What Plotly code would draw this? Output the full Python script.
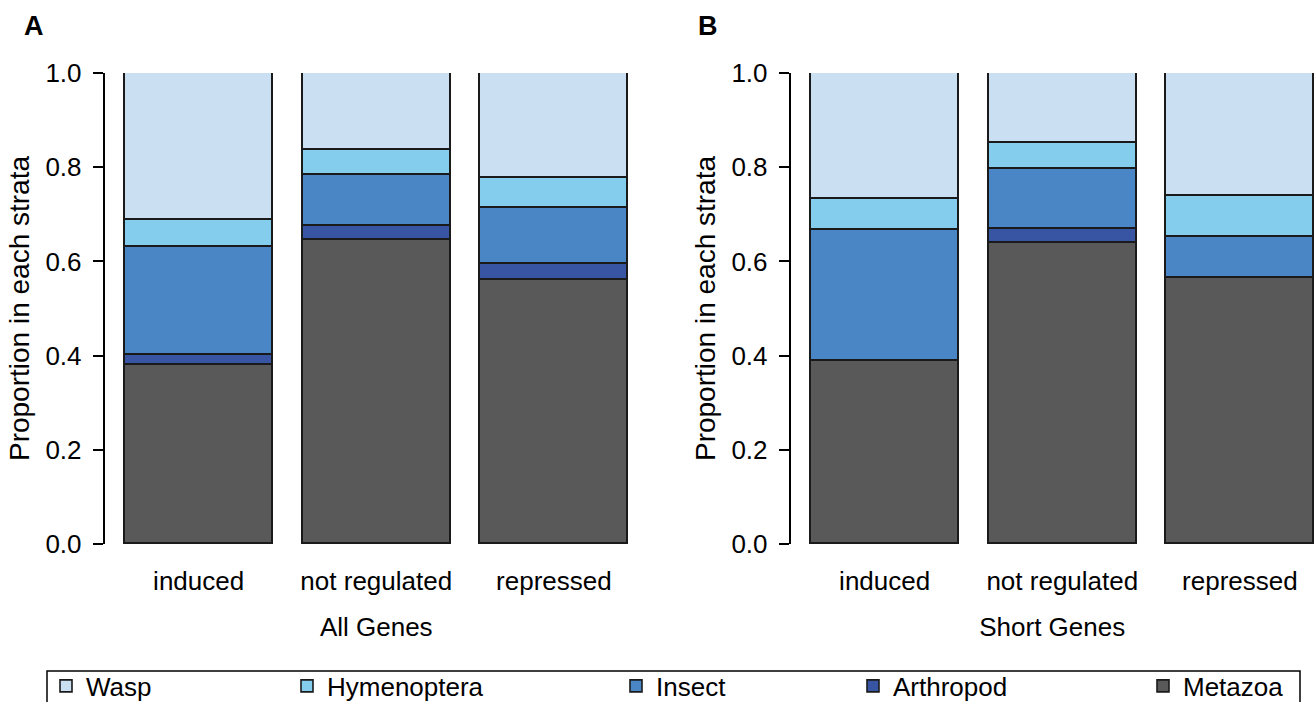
import plotly.graph_objects as go

W, H = 1314, 702

categories = ["induced", "not regulated", "repressed"]
taxa = ["Metazoa", "Arthropod", "Insect", "Hymenoptera", "Wasp"]
colors = {
    "Wasp": "#CBDFF3",
    "Hymenoptera": "#84CDEC",
    "Insect": "#4A86C5",
    "Arthropod": "#3755A3",
    "Metazoa": "#595959",
}

# Panel A: All Genes (segment proportions)
metazoa_all = [0.379, 0.645, 0.560]
arthropod_all = [0.022, 0.031, 0.034]
insect_all = [0.230, 0.108, 0.119]
hymenoptera_all = [0.057, 0.053, 0.065]
wasp_all = [0.312, 0.163, 0.222]

# Panel B: Short Genes
metazoa_short = [0.389, 0.639, 0.565]
arthropod_short = [0.000, 0.029, 0.000]
insect_short = [0.278, 0.128, 0.087]
hymenoptera_short = [0.066, 0.056, 0.087]
wasp_short = [0.267, 0.148, 0.261]

panel_A = dict(zip(taxa, [metazoa_all, arthropod_all, insect_all, hymenoptera_all, wasp_all]))
panel_B = dict(zip(taxa, [metazoa_short, arthropod_short, insect_short, hymenoptera_short, wasp_short]))

legend_ids = {"Wasp": "legend", "Hymenoptera": "legend2", "Insect": "legend3",
              "Arthropod": "legend4", "Metazoa": "legend5"}
legend_x_px = {"Wasp": 46, "Hymenoptera": 287, "Insect": 616, "Arthropod": 853, "Metazoa": 1143}

FONT = "Arial, Liberation Sans, sans-serif"
FS = 26
fig = go.Figure()

for t in taxa:
    fig.add_trace(go.Bar(
        x=categories, y=panel_A[t], name=t, xaxis="x", yaxis="y",
        marker=dict(color=colors[t], line=dict(color="#1a1a1a", width=1.6)),
        width=1 / 1.2, legend=legend_ids[t], showlegend=True,
    ))
for t in taxa:
    fig.add_trace(go.Bar(
        x=categories, y=panel_B[t], name=t, xaxis="x2", yaxis="y2",
        marker=dict(color=colors[t], line=dict(color="#1a1a1a", width=1.6)),
        width=1 / 1.2, showlegend=False,
    ))

ydom = [(H - 544) / H, (H - 73) / H]
yax = dict(range=[0, 1], domain=ydom, showline=True, linecolor="black", linewidth=1.5,
           ticks="outside", ticklen=10, tickwidth=1.5, tickcolor="black",
           tickvals=[0, 0.2, 0.4, 0.6, 0.8, 1.0], tickformat=".1f",
           showgrid=False, zeroline=False, ticklabelstandoff=6,
           tickfont=dict(size=FS, color="black", family=FONT),
           title=dict(text="Proportion in each strata", standoff=8,
                      font=dict(size=28, color="black", family=FONT)))
xax = dict(showline=False, ticks="", showgrid=False, zeroline=False,
           tickfont=dict(size=FS, color="black", family=FONT), ticklabelstandoff=19,
           title=dict(standoff=22, font=dict(size=FS, color="black", family=FONT)))

legends = {}
for t in taxa:
    legends[legend_ids[t]] = dict(
        x=legend_x_px[t] / W, xanchor="left", y=(H - 686) / H, yanchor="middle",
        orientation="h", bgcolor="rgba(0,0,0,0)", borderwidth=0,
        font=dict(size=FS, color="black", family=FONT),
    )

fig.update_layout(
    width=W, height=H, margin=dict(l=0, r=0, t=0, b=0, autoexpand=False),
    paper_bgcolor="white", plot_bgcolor="white",
    barmode="stack", bargap=0,
    font=dict(family=FONT, color="black"),
    xaxis=dict(xax, domain=[104.5 / W, 648 / W], range=[-0.53, 2.53], anchor="y",
               title=dict(xax["title"], text="All Genes")),
    yaxis=dict(yax, anchor="x"),
    xaxis2=dict(xax, domain=[790.5 / W, 1.0], range=[-0.53, 2.417], anchor="y2",
                title=dict(xax["title"], text="Short Genes")),
    yaxis2=dict(yax, anchor="x2"),
    **legends,
    shapes=[dict(type="rect", xref="paper", yref="paper",
                 x0=47 / W, x1=1300 / W, y0=-0.05, y1=(H - 671) / H,
                 line=dict(color="black", width=1.5), fillcolor="rgba(0,0,0,0)", layer="below")],
    annotations=[
        dict(text="<b>A</b>", x=34 / W, y=(H - 9) / H, xref="paper", yref="paper",
             xanchor="center", yanchor="top",
             showarrow=False, font=dict(size=27, color="black", family=FONT)),
        dict(text="<b>B</b>", x=708 / W, y=(H - 9) / H, xref="paper", yref="paper",
             xanchor="center", yanchor="top",
             showarrow=False, font=dict(size=27, color="black", family=FONT)),
    ],
)

fig.write_html("out.html")
